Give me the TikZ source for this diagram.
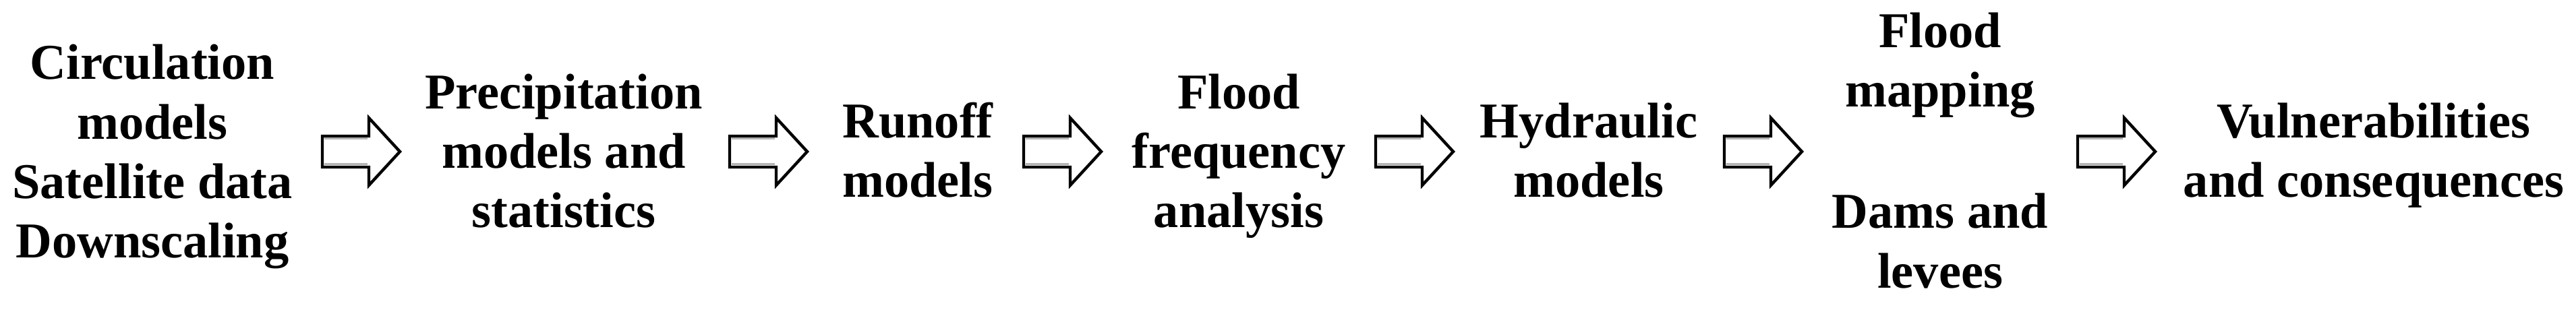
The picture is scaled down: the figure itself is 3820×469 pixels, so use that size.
\documentclass[tikz,border=0pt]{standalone}
\usepackage{fontspec}
\setmainfont{Liberation Serif}
\newcommand\flowarrow[1]{%
  \draw[arrowline] (#1) ++(0,-23) -- ++(69,0) -- ++(0,-27) -- ++(46,50) -- ++(-46,50) -- ++(0,-27) -- ++(-69,0) -- cycle;
  \draw[arrowshade] (#1) ++(2.5,-19) -- ++(64,0);
  \draw[arrowshade] (#1) ++(2.5,19) -- ++(64,0);}
\begin{document}
\begin{tikzpicture}[x=0.25pt,y=-0.25pt,
  lbl/.style={font=\fontsize{18.6pt}{22.1pt}\selectfont\bfseries, align=center, inner sep=0pt, anchor=base},
  arrowline/.style={draw=black, line width=1.1pt, fill=white, line join=miter},
  arrowshade/.style={draw=black!30, line width=0.75pt}]
\useasboundingbox (0,0) rectangle (3820,469);
\node[lbl] (circ) at (226,383) {Circulation\\models\\Satellite data\\Downscaling};
\node[lbl] (prec) at (836,338) {Precipitation\\models and\\statistics};
\node[lbl] (run) at (1361,293) {Runoff\\models};
\node[lbl] (ffa) at (1837,338) {Flood\\frequency\\analysis};
\node[lbl] (hyd) at (2356,293) {Hydraulic\\models};
\node[lbl] (map) at (2877,159) {Flood\\mapping};
\node[lbl] (dams) at (2877,427) {Dams and\\levees};
\node[lbl] (vul) at (3520,293) {Vulnerabilities\\and consequences};
\coordinate (a1) at (478,225);
\coordinate (a2) at (1082,225);
\coordinate (a3) at (1518,225);
\coordinate (a4) at (2040,225);
\coordinate (a5) at (2557,225);
\coordinate (a6) at (3081,225);
\flowarrow{a1}
\flowarrow{a2}
\flowarrow{a3}
\flowarrow{a4}
\flowarrow{a5}
\flowarrow{a6}
\end{tikzpicture}
\end{document}
